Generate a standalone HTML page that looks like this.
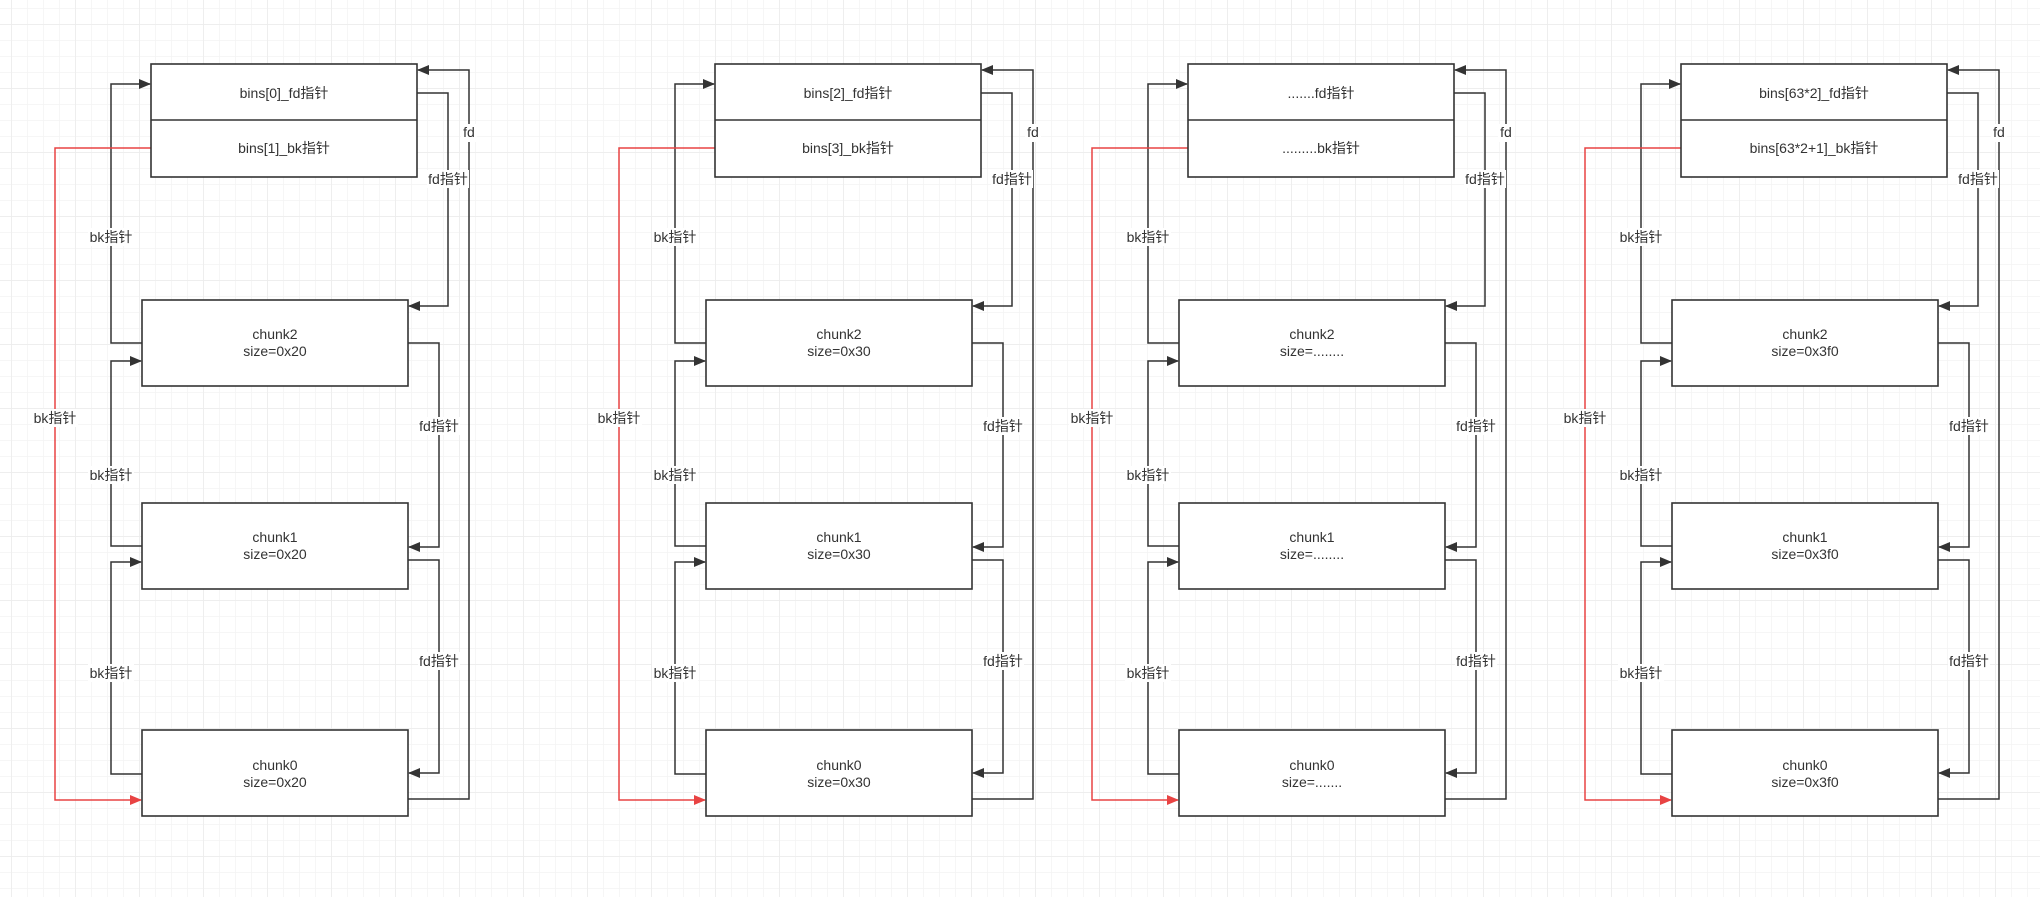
<!DOCTYPE html>
<html><head><meta charset="utf-8"><style>
html,body{margin:0;padding:0;background:#fff;}
svg{display:block;}
text{font-family:"Liberation Sans","Noto Sans CJK SC",sans-serif;font-size:14px;fill:#333;}
</style></head><body>
<svg width="2040" height="897" viewBox="0 0 2040 897" xmlns="http://www.w3.org/2000/svg">
<defs>
<pattern id="minor" x="11" y="8" width="16" height="16" patternUnits="userSpaceOnUse">
<path d="M0 0H16M0 0V16" stroke="#f3f3f3" stroke-width="1.5" fill="none"/>
</pattern>
<pattern id="major" x="11" y="24" width="64" height="64" patternUnits="userSpaceOnUse">
<path d="M0 0H64M0 0V64" stroke="#ebebeb" stroke-width="1.5" fill="none"/>
</pattern>
<marker id="ah" markerWidth="12" markerHeight="10" refX="11" refY="5" orient="auto" markerUnits="userSpaceOnUse">
<path d="M0 0L12 5L0 10Z" fill="#333"/>
</marker>
<marker id="ahr" markerWidth="12" markerHeight="10" refX="11" refY="5" orient="auto" markerUnits="userSpaceOnUse">
<path d="M0 0L12 5L0 10Z" fill="#e84343"/>
</marker>
<g id="d">
<g fill="none" stroke="#333" stroke-width="1.5">
<path d="M142 343H111V84H150" marker-end="url(#ah)"/>
<path d="M417 93H448V306H409" marker-end="url(#ah)"/>
<path d="M408 799H469V70H418" marker-end="url(#ah)"/>
<path d="M408 343H439V547H409" marker-end="url(#ah)"/>
<path d="M142 546H111V361H141" marker-end="url(#ah)"/>
<path d="M408 560H439V773H409" marker-end="url(#ah)"/>
<path d="M142 774H111V562H141" marker-end="url(#ah)"/>
</g>
<path d="M151 148H55V800H141" fill="none" stroke="#e84343" stroke-width="1.5" marker-end="url(#ahr)"/>
<g stroke="#333" stroke-width="1.6" fill="#fff">
<rect x="151" y="64" width="266" height="113"/>
<rect x="142" y="300" width="266" height="86"/>
<rect x="142" y="503" width="266" height="86"/>
<rect x="142" y="730" width="266" height="86"/>
</g>
<line x1="151" y1="120" x2="417" y2="120" stroke="#333" stroke-width="1.5"/>
<g fill="#fff">
<rect x="88" y="228" width="46" height="18"/>
<rect x="88" y="466" width="46" height="18"/>
<rect x="88" y="664" width="46" height="18"/>
<rect x="32" y="409" width="46" height="18"/>
<rect x="427" y="170" width="42" height="18"/>
<rect x="418" y="417" width="42" height="18"/>
<rect x="418" y="652" width="42" height="18"/>
<rect x="461" y="124" width="16" height="18"/>
</g>
<text x="111" y="242" text-anchor="middle">bk指针</text>
<text x="111" y="480" text-anchor="middle">bk指针</text>
<text x="111" y="678" text-anchor="middle">bk指针</text>
<text x="55" y="423" text-anchor="middle">bk指针</text>
<text x="448" y="184" text-anchor="middle">fd指针</text>
<text x="439" y="431" text-anchor="middle">fd指针</text>
<text x="439" y="666" text-anchor="middle">fd指针</text>
<text x="469" y="137" text-anchor="middle">fd</text>
</g>
</defs>
<rect width="2040" height="897" fill="#fff"/>
<rect width="2040" height="897" fill="url(#minor)"/>
<rect width="2040" height="897" fill="url(#major)"/>

<g>
<use href="#d"/>
<text x="284" y="98" text-anchor="middle">bins[0]_fd指针</text>
<text x="284" y="153" text-anchor="middle">bins[1]_bk指针</text>
<text x="275" y="339" text-anchor="middle">chunk2</text><text x="275" y="356" text-anchor="middle">size=0x20</text>
<text x="275" y="542" text-anchor="middle">chunk1</text><text x="275" y="559" text-anchor="middle">size=0x20</text>
<text x="275" y="770" text-anchor="middle">chunk0</text><text x="275" y="787" text-anchor="middle">size=0x20</text>
</g>
<g transform="translate(564,0)">
<use href="#d"/>
<text x="284" y="98" text-anchor="middle">bins[2]_fd指针</text>
<text x="284" y="153" text-anchor="middle">bins[3]_bk指针</text>
<text x="275" y="339" text-anchor="middle">chunk2</text><text x="275" y="356" text-anchor="middle">size=0x30</text>
<text x="275" y="542" text-anchor="middle">chunk1</text><text x="275" y="559" text-anchor="middle">size=0x30</text>
<text x="275" y="770" text-anchor="middle">chunk0</text><text x="275" y="787" text-anchor="middle">size=0x30</text>
</g>
<g transform="translate(1037,0)">
<use href="#d"/>
<text x="284" y="98" text-anchor="middle">.......fd指针</text>
<text x="284" y="153" text-anchor="middle">.........bk指针</text>
<text x="275" y="339" text-anchor="middle">chunk2</text><text x="275" y="356" text-anchor="middle">size=........</text>
<text x="275" y="542" text-anchor="middle">chunk1</text><text x="275" y="559" text-anchor="middle">size=........</text>
<text x="275" y="770" text-anchor="middle">chunk0</text><text x="275" y="787" text-anchor="middle">size=.......</text>
</g>
<g transform="translate(1530,0)">
<use href="#d"/>
<text x="284" y="98" text-anchor="middle">bins[63*2]_fd指针</text>
<text x="284" y="153" text-anchor="middle">bins[63*2+1]_bk指针</text>
<text x="275" y="339" text-anchor="middle">chunk2</text><text x="275" y="356" text-anchor="middle">size=0x3f0</text>
<text x="275" y="542" text-anchor="middle">chunk1</text><text x="275" y="559" text-anchor="middle">size=0x3f0</text>
<text x="275" y="770" text-anchor="middle">chunk0</text><text x="275" y="787" text-anchor="middle">size=0x3f0</text>
</g>
</svg>
</body></html>
